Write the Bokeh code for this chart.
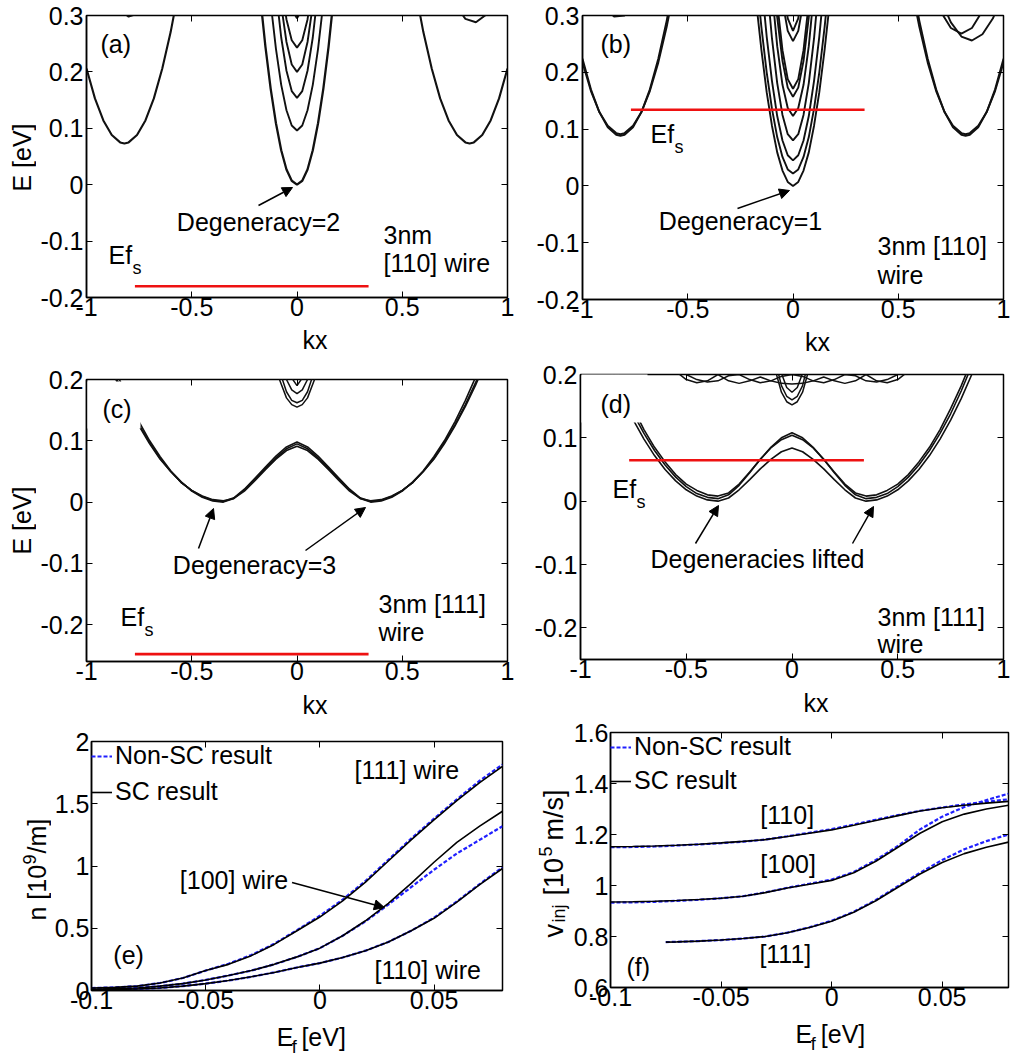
import math
from bokeh.plotting import figure
from bokeh.models import (Label, Arrow, NormalHead, FixedTicker, LinearAxis, Range1d,
                          BoxAnnotation, Legend, LegendItem)
from bokeh.layouts import column, row
from bokeh.embed import file_html
from bokeh.resources import INLINE

FONT = "Liberation Sans"
FS = 25
FS_SUB = 18
BLUE = "#2020ff"
RED = "#ee1111"

# ======================= DATA =======================
kx_ticks = [-1, -0.5, 0, 0.5, 1]
kx_tick_labels = ["-1", "-0.5", "0", "0.5", "1"]
E_ticks_ab = [-0.2, -0.1, 0, 0.1, 0.2, 0.3]
E_tick_labels_ab = ["-0.2", "-0.1", "0", "0.1", "0.2", "0.3"]
E_ticks_cd = [-0.2, -0.1, 0, 0.1, 0.2]
E_tick_labels_cd = ["-0.2", "-0.1", "0", "0.1", "0.2"]
ef_ticks = [-0.1, -0.05, 0, 0.05]
ef_tick_labels = ["-0.1", "-0.05", "0", "0.05"]
n_ticks = [0, 0.5, 1, 1.5, 2]
n_tick_labels = ["0", "0.5", "1", "1.5", "2"]
v_ticks = [0.6, 0.8, 1.0, 1.2, 1.4, 1.6]
v_tick_labels = ["0.6", "0.8", "1", "1.2", "1.4", "1.6"]

# Fermi level (Ef_s) lines
ef_line_kx = [-0.77, 0.34]
efs_a = -0.18
efs_b = 0.134
efs_c = -0.248
efs_d = 0.0645

# ---- panel (a): 3nm [110] wire, bands
kx_side_left = [-1.0, -0.96, -0.92, -0.88, -0.84, -0.82, -0.80, -0.76, -0.72, -0.68, -0.64, -0.60, -0.56]
kx_side_right = [0.56, 0.60, 0.64, 0.68, 0.72, 0.76, 0.80, 0.82, 0.84, 0.88, 0.92, 0.96, 1.0]
a_side_left = [0.206, 0.153, 0.114, 0.088, 0.075, 0.073, 0.075, 0.088, 0.114, 0.153, 0.206, 0.271, 0.350]
a_side_right = [0.350, 0.271, 0.206, 0.153, 0.114, 0.088, 0.075, 0.073, 0.075, 0.088, 0.114, 0.153, 0.206]
kx_a_top_left = [-0.9, -0.85, -0.8, -0.75, -0.7]
a_top_left = [0.346, 0.312, 0.298, 0.304, 0.33]
kx_a_top_right = [0.7, 0.75, 0.8, 0.85, 0.9, 0.95]
a_top_right = [0.366, 0.32, 0.294, 0.288, 0.302, 0.336]

kc = [-0.2, -0.175, -0.15, -0.125, -0.1, -0.075, -0.05, -0.025, 0.0,
      0.025, 0.05, 0.075, 0.1, 0.125, 0.15, 0.175, 0.2]
a_c1 = [0.436, 0.334, 0.245, 0.170, 0.109, 0.061, 0.027, 0.007, 0.0, 0.007, 0.027, 0.061, 0.109, 0.170, 0.245, 0.334, 0.436]
a_c2 = [0.676, 0.540, 0.422, 0.322, 0.241, 0.177, 0.132, 0.105, 0.096, 0.105, 0.132, 0.177, 0.241, 0.322, 0.422, 0.540, 0.676]
a_c3 = [0.914, 0.736, 0.582, 0.451, 0.344, 0.261, 0.202, 0.166, 0.154, 0.166, 0.202, 0.261, 0.344, 0.451, 0.582, 0.736, 0.914]
a_c4 = [1.040, 0.843, 0.673, 0.528, 0.410, 0.318, 0.253, 0.213, 0.200, 0.213, 0.253, 0.318, 0.410, 0.528, 0.673, 0.843, 1.040]
a_c5 = [1.043, 0.855, 0.693, 0.555, 0.443, 0.355, 0.293, 0.256, 0.243, 0.256, 0.293, 0.355, 0.443, 0.555, 0.693, 0.855, 1.043]
a_c6 = [1.295, 1.060, 0.857, 0.685, 0.545, 0.435, 0.358, 0.311, 0.295, 0.311, 0.358, 0.435, 0.545, 0.685, 0.857, 1.060, 1.295]

# ---- panel (b): 3nm [110] wire, self-consistent
b_side_left_1 = [0.224, 0.170, 0.130, 0.103, 0.090, 0.088, 0.090, 0.103, 0.130, 0.170, 0.224, 0.291, 0.372]
b_side_left_2 = [0.217, 0.167, 0.130, 0.106, 0.093, 0.091, 0.093, 0.106, 0.130, 0.167, 0.217, 0.280, 0.355]
b_side_right_1 = [0.372, 0.291, 0.224, 0.170, 0.130, 0.103, 0.090, 0.088, 0.090, 0.103, 0.130, 0.170, 0.224]
b_side_right_2 = [0.355, 0.280, 0.217, 0.167, 0.130, 0.106, 0.093, 0.091, 0.093, 0.106, 0.130, 0.167, 0.217]
kx_b_top_right = [0.6, 0.65, 0.7, 0.75, 0.8, 0.85, 0.9, 0.95, 1.0]
b_top_right_1 = [0.466, 0.389, 0.330, 0.288, 0.263, 0.256, 0.267, 0.295, 0.340]
b_top_right_2 = [0.428, 0.358, 0.308, 0.278, 0.268, 0.278, 0.308, 0.358, 0.428]
kx_b_top_left = [-0.95, -0.9, -0.85, -0.8, -0.75, -0.7]
b_top_left = [0.354, 0.316, 0.298, 0.300, 0.322, 0.364]
b_c1 = [0.424, 0.324, 0.239, 0.165, 0.106, 0.059, 0.027, 0.007, 0.0, 0.007, 0.027, 0.059, 0.106, 0.165, 0.239, 0.324, 0.424]
b_c2 = [0.478, 0.371, 0.279, 0.200, 0.136, 0.086, 0.051, 0.029, 0.022, 0.029, 0.051, 0.086, 0.136, 0.200, 0.279, 0.371, 0.478]
b_c3 = [0.605, 0.473, 0.360, 0.263, 0.185, 0.123, 0.080, 0.054, 0.045, 0.054, 0.080, 0.123, 0.185, 0.263, 0.360, 0.473, 0.605]
b_c4 = [0.800, 0.631, 0.485, 0.361, 0.260, 0.181, 0.125, 0.091, 0.080, 0.091, 0.125, 0.181, 0.260, 0.361, 0.485, 0.631, 0.800]
b_c5 = [1.003, 0.796, 0.618, 0.466, 0.343, 0.246, 0.178, 0.137, 0.123, 0.137, 0.178, 0.246, 0.343, 0.466, 0.618, 0.796, 1.003]
b_c6 = [1.157, 0.922, 0.720, 0.547, 0.407, 0.297, 0.220, 0.173, 0.157, 0.173, 0.220, 0.297, 0.407, 0.547, 0.720, 0.922, 1.157]
b_c7 = [1.251, 0.997, 0.779, 0.592, 0.441, 0.322, 0.239, 0.188, 0.171, 0.188, 0.239, 0.322, 0.441, 0.592, 0.779, 0.997, 1.251]
b_c8 = [1.375, 1.112, 0.885, 0.692, 0.535, 0.412, 0.325, 0.273, 0.255, 0.273, 0.325, 0.412, 0.535, 0.692, 0.885, 1.112, 1.375]
b_c9 = [1.673, 1.343, 1.061, 0.819, 0.623, 0.469, 0.361, 0.295, 0.273, 0.295, 0.361, 0.469, 0.623, 0.819, 1.061, 1.343, 1.673]

# ---- panels (c), (d): 3nm [111] wire
kw = [-0.9, -0.85, -0.8, -0.75, -0.7, -0.65, -0.6, -0.55, -0.5, -0.45, -0.4, -0.35, -0.3, -0.25,
      -0.2, -0.15, -0.1, -0.05, 0.0, 0.05, 0.1, 0.15, 0.2, 0.25, 0.3, 0.35, 0.4, 0.45, 0.5,
      0.55, 0.6, 0.65, 0.7, 0.75, 0.8, 0.85, 0.9]
c_w1 = [0.248, 0.205, 0.166, 0.131, 0.100, 0.074, 0.051, 0.033, 0.018, 0.008, 0.002, 0.0, 0.006, 0.020,
        0.037, 0.055, 0.072, 0.087, 0.095, 0.087, 0.072, 0.055, 0.037, 0.020, 0.006, 0.0, 0.002, 0.008,
        0.018, 0.033, 0.051, 0.074, 0.100, 0.131, 0.166, 0.205, 0.248]
c_w2 = [0.237, 0.196, 0.159, 0.126, 0.097, 0.071, 0.050, 0.032, 0.019, 0.009, 0.003, 0.001, 0.007, 0.021,
        0.039, 0.057, 0.075, 0.090, 0.098, 0.090, 0.075, 0.057, 0.039, 0.021, 0.007, 0.001, 0.003, 0.009,
        0.019, 0.032, 0.050, 0.071, 0.097, 0.126, 0.159, 0.196, 0.237]
c_w3 = [0.232, 0.192, 0.156, 0.124, 0.095, 0.070, 0.050, 0.032, 0.019, 0.010, 0.004, 0.002, 0.006, 0.018,
        0.035, 0.053, 0.070, 0.084, 0.091, 0.084, 0.070, 0.053, 0.035, 0.018, 0.006, 0.002, 0.004, 0.010,
        0.019, 0.032, 0.050, 0.070, 0.095, 0.124, 0.156, 0.192, 0.232]
kv = [-0.2, -0.15, -0.1, -0.05, -0.025, 0.0, 0.025, 0.05, 0.1, 0.15, 0.2]
c_v1 = [0.395, 0.290, 0.215, 0.170, 0.159, 0.155, 0.159, 0.170, 0.215, 0.290, 0.395]
c_v2 = [0.442, 0.320, 0.232, 0.180, 0.166, 0.162, 0.166, 0.180, 0.232, 0.320, 0.442]
c_v3 = [0.537, 0.380, 0.267, 0.200, 0.183, 0.177, 0.183, 0.200, 0.267, 0.380, 0.537]
c_v4 = [0.990, 0.640, 0.390, 0.240, 0.2025, 0.190, 0.2025, 0.240, 0.390, 0.640, 0.990]

d_w1 = [0.242, 0.200, 0.162, 0.128, 0.098, 0.072, 0.050, 0.032, 0.018, 0.008, 0.002, 0.0, 0.005, 0.018,
        0.034, 0.051, 0.066, 0.078, 0.084, 0.078, 0.066, 0.051, 0.034, 0.018, 0.005, 0.0, 0.002, 0.008,
        0.018, 0.032, 0.050, 0.072, 0.098, 0.128, 0.162, 0.200, 0.242]
d_w2 = [0.258, 0.214, 0.174, 0.138, 0.107, 0.080, 0.057, 0.038, 0.023, 0.012, 0.006, 0.004, 0.010, 0.025,
        0.045, 0.066, 0.085, 0.100, 0.108, 0.100, 0.085, 0.066, 0.045, 0.025, 0.010, 0.004, 0.006, 0.012,
        0.023, 0.038, 0.057, 0.080, 0.107, 0.138, 0.174, 0.214, 0.258]
d_w3 = [0.268, 0.223, 0.182, 0.146, 0.113, 0.085, 0.062, 0.042, 0.027, 0.017, 0.010, 0.008, 0.013, 0.027,
        0.046, 0.066, 0.084, 0.097, 0.104, 0.097, 0.084, 0.066, 0.046, 0.027, 0.013, 0.008, 0.010, 0.017,
        0.027, 0.042, 0.062, 0.085, 0.113, 0.146, 0.182, 0.223, 0.268]
d_v1 = [0.472, 0.332, 0.232, 0.172, 0.157, 0.152, 0.157, 0.172, 0.232, 0.332, 0.472]
d_v2 = [0.520, 0.363, 0.250, 0.1825, 0.1656, 0.160, 0.1656, 0.1825, 0.250, 0.363, 0.520]
d_v3 = [0.652, 0.442, 0.292, 0.202, 0.1795, 0.172, 0.1795, 0.202, 0.292, 0.442, 0.652]
ks = [-0.6, -0.55, -0.5, -0.45, -0.4, -0.35, -0.3, -0.25, -0.2, -0.15, -0.1, -0.05, 0.0,
      0.05, 0.1, 0.15, 0.2, 0.25, 0.3, 0.35, 0.4, 0.45, 0.5, 0.55, 0.6]
d_s1 = [0.225, 0.205, 0.192, 0.187, 0.190, 0.200, 0.190, 0.186, 0.190, 0.196, 0.190, 0.186, 0.185,
        0.186, 0.190, 0.196, 0.190, 0.186, 0.190, 0.200, 0.190, 0.187, 0.192, 0.205, 0.225]
d_s2 = [0.235, 0.212, 0.200, 0.192, 0.188, 0.190, 0.198, 0.200, 0.192, 0.187, 0.190, 0.197, 0.200,
        0.197, 0.190, 0.187, 0.192, 0.200, 0.198, 0.190, 0.188, 0.192, 0.200, 0.212, 0.235]

# ---- panel (e): electron density n [1e9/m] vs Ef
ef_e = [-0.1, -0.09, -0.08, -0.07, -0.06, -0.05, -0.04, -0.03, -0.02, -0.01, 0.0,
        0.01, 0.02, 0.03, 0.04, 0.05, 0.06, 0.07, 0.08]
n111_sc = [0.02, 0.025, 0.035, 0.06, 0.1, 0.16, 0.21, 0.28, 0.37, 0.48, 0.59, 0.72, 0.87, 1.04, 1.21, 1.37, 1.525, 1.67, 1.80]
n111_nsc = [0.02, 0.025, 0.035, 0.06, 0.1, 0.16, 0.215, 0.285, 0.375, 0.485, 0.6, 0.73, 0.88, 1.05, 1.22, 1.38, 1.535, 1.685, 1.815]
n100_sc = [0.01, 0.015, 0.02, 0.035, 0.055, 0.085, 0.12, 0.16, 0.21, 0.27, 0.34, 0.44, 0.56, 0.70, 0.86, 1.03, 1.19, 1.32, 1.44]
n100_nsc = [0.01, 0.015, 0.02, 0.035, 0.055, 0.085, 0.12, 0.16, 0.21, 0.27, 0.34, 0.44, 0.555, 0.69, 0.83, 0.97, 1.10, 1.21, 1.32]
n110_sc = [0.005, 0.008, 0.012, 0.02, 0.035, 0.055, 0.08, 0.11, 0.145, 0.185, 0.22, 0.265, 0.32, 0.39, 0.48, 0.58, 0.71, 0.85, 0.98]
n110_nsc = [0.005, 0.008, 0.012, 0.02, 0.035, 0.055, 0.08, 0.11, 0.145, 0.185, 0.22, 0.265, 0.32, 0.39, 0.48, 0.585, 0.715, 0.855, 0.99]

# ---- panel (f): injection velocity [1e5 m/s] vs Ef
ef_f = [-0.1, -0.09, -0.08, -0.07, -0.06, -0.05, -0.04, -0.03, -0.02, -0.01, 0.0,
        0.01, 0.02, 0.03, 0.04, 0.05, 0.06, 0.07, 0.08]
v110_sc = [1.152, 1.153, 1.155, 1.158, 1.162, 1.167, 1.173, 1.18, 1.192, 1.205, 1.218, 1.236, 1.255, 1.274, 1.292, 1.305, 1.315, 1.323, 1.33]
v110_nsc = [1.150, 1.151, 1.153, 1.157, 1.161, 1.166, 1.172, 1.180, 1.193, 1.207, 1.221, 1.239, 1.258, 1.276, 1.293, 1.306, 1.318, 1.328, 1.338]
v100_sc = [0.935, 0.936, 0.938, 0.941, 0.945, 0.95, 0.958, 0.972, 0.99, 1.005, 1.02, 1.05, 1.095, 1.15, 1.205, 1.25, 1.28, 1.30, 1.315]
v100_nsc = [0.933, 0.934, 0.936, 0.94, 0.944, 0.95, 0.958, 0.973, 0.991, 1.007, 1.023, 1.053, 1.1, 1.155, 1.22, 1.27, 1.308, 1.335, 1.36]
ef_f111 = [-0.075, -0.07, -0.06, -0.05, -0.04, -0.03, -0.02, -0.01, 0.0, 0.01, 0.02, 0.03, 0.04, 0.05, 0.06, 0.07, 0.08]
v111_sc = [0.778, 0.779, 0.782, 0.786, 0.792, 0.80, 0.815, 0.835, 0.86, 0.895, 0.94, 0.993, 1.045, 1.09, 1.125, 1.15, 1.17]
v111_nsc = [0.778, 0.779, 0.782, 0.786, 0.792, 0.80, 0.815, 0.836, 0.862, 0.897, 0.943, 0.997, 1.05, 1.1, 1.142, 1.174, 1.2]

# ======================= LAYOUT (page pixels, origin = page top-left) =======================
PANELS = {
    "a": dict(fig=(36, 0, 479, 325), frame=(86, 15, 421, 282), xr=(-1, 1), yr=(-0.2, 0.3), ystand=3),
    "b": dict(fig=(515, 0, 496, 327), frame=(582, 15, 421, 284), xr=(-1, 1), yr=(-0.2, 0.3), ystand=3),
    "c": dict(fig=(36, 360, 479, 329), frame=(86, 379, 421, 282), xr=(-1, 1), yr=(-0.26, 0.2), ystand=3),
    "d": dict(fig=(515, 360, 496, 327), frame=(580, 374, 423, 285), xr=(-1, 1), yr=(-0.25, 0.2), ystand=3),
    "e": dict(fig=(51, 718, 464, 300), frame=(88, 741, 414, 249), xr=(-0.1, 0.08), yr=(0, 2), ystand=2),
    "f": dict(fig=(570, 718, 441, 297), frame=(607, 732, 401, 255), xr=(-0.1, 0.08), yr=(0.6, 1.6), ystand=2),
}
MID = 0.3465  # em offset from alphabetic baseline to the middle of the em box


def to_data(key, px, py):
    P = PANELS[key]
    fl, ft, fw, fh = P["frame"]
    x0, x1 = P["xr"]
    y0, y1 = P["yr"]
    return x0 + (px - fl) / fw * (x1 - x0), y1 - (py - ft) / fh * (y1 - y0)


def setup_axis(ax, ticks, labels, standoff, show_labels=True):
    ax.ticker = FixedTicker(ticks=ticks)
    if show_labels:
        ax.major_label_overrides = {t: l for t, l in zip(ticks, labels)}
        ax.major_label_text_font = FONT
        ax.major_label_text_font_size = f"{FS}px"
        ax.major_label_text_color = "black"
        ax.major_label_standoff = standoff
    else:
        ax.major_label_overrides = {t: "" for t in ticks}
        ax.major_label_text_font_size = "0px"
        ax.major_label_standoff = 0
    ax.major_tick_in = 6
    ax.major_tick_out = 0
    ax.major_tick_line_color = "black"
    ax.major_tick_line_width = 1
    ax.minor_tick_line_color = None
    ax.axis_line_color = "black" if show_labels else None
    ax.axis_line_width = 1.5


def make_panel(key, xt, xtl, yt, ytl):
    P = PANELS[key]
    fx, fy, fw_, fh_ = P["fig"]
    fl, ft, fw, fh = P["frame"]
    p = figure(width=fw_, height=fh_, x_range=Range1d(*P["xr"]), y_range=Range1d(*P["yr"]),
               output_backend="svg", toolbar_location=None, title=None,
               min_border_left=fl - fx, min_border_right=fx + fw_ - fl - fw,
               min_border_top=ft - fy, min_border_bottom=fy + fh_ - ft - fh)
    p.grid.visible = False
    p.outline_line_color = "black"
    p.outline_line_width = 1.5
    p.background_fill_color = "white"
    p.border_fill_color = "white"
    setup_axis(p.xaxis[0], xt, xtl, 0)
    setup_axis(p.yaxis[0], yt, ytl, P["ystand"])
    top = LinearAxis()
    setup_axis(top, xt, xtl, 0, show_labels=False)
    p.add_layout(top, "above")
    right = LinearAxis()
    setup_axis(right, yt, ytl, 0, show_labels=False)
    p.add_layout(right, "right")
    return p


def make_strip(x0, y0, w, h, items):
    """A plain text strip (axis titles); items use page pixel coordinates of the text baseline."""
    s = figure(width=w, height=h, x_range=Range1d(0, w), y_range=Range1d(h, 0),
               output_backend="svg", toolbar_location=None, title=None,
               x_axis_location=None, y_axis_location=None, min_border=0)
    s.xgrid.visible = False
    s.ygrid.visible = False
    s.outline_line_color = None
    s.background_fill_color = "white"
    s.border_fill_color = "white"
    for px, py, t, size, align, rotated in items:
        off = MID * size
        if rotated:
            lx, ly, ang = px - x0 - off, py - y0, math.pi / 2
        else:
            lx, ly, ang = px - x0, py - y0 - off, 0.0
        s.add_layout(Label(x=lx, y=ly, text=t, text_font=FONT, text_font_size=f"{size}px",
                           text_align=align, text_baseline="middle", angle=ang,
                           text_color="black"))
    return s


def text(p, key, px, py, s, size=FS, align="left"):
    """px, py = page position of the text baseline (left or centre)."""
    x, y = to_data(key, px, py - MID * size)
    p.add_layout(Label(x=x, y=y, text=s, text_font=FONT, text_font_size=f"{size}px",
                       text_align=align, text_baseline="middle", text_color="black"))


def arrow(p, key, p0, p1):
    x0, y0 = to_data(key, *p0)
    x1, y1 = to_data(key, *p1)
    p.add_layout(Arrow(end=NormalHead(size=10, fill_color="black", line_color="black", line_width=1),
                       x_start=x0, y_start=y0, x_end=x1, y_end=y1,
                       line_width=1.5, line_color="black"))


def white_box(p, key, left, top, right, bottom):
    x0, y1 = to_data(key, left, top)
    x1, y0 = to_data(key, right, bottom)
    p.add_layout(BoxAnnotation(left=x0, right=x1, bottom=y0, top=y1, fill_color="white",
                               fill_alpha=1.0, line_color=None))


def band(p, x, y, w=1.9):
    p.line(x, y, line_color="#111111", line_width=w)


def efs(p, key, yv, px, py):
    p.line(ef_line_kx, [yv, yv], line_color=RED, line_width=2.6)
    text(p, key, px, py, "Ef")
    text(p, key, px + 24, py + 11, "s", size=FS_SUB)


# ---------------- (a)
pa = make_panel("a", kx_ticks, kx_tick_labels, E_ticks_ab, E_tick_labels_ab)
band(pa, kx_side_left, a_side_left, 2.1)
band(pa, kx_side_right, a_side_right, 2.1)
band(pa, kx_a_top_left, a_top_left)
band(pa, kx_a_top_right, a_top_right)
band(pa, kc, a_c1, 2.3)
for e in (a_c2, a_c3, a_c4, a_c5, a_c6):
    band(pa, kc, e)
efs(pa, "a", efs_a, 108, 263)
text(pa, "a", 100, 52, "(a)")
text(pa, "a", 258, 230, "Degeneracy=2", align="center")
arrow(pa, "a", (258, 205), (292, 187))
text(pa, "a", 383, 243, "3nm")
text(pa, "a", 383, 271, "[110] wire")
ya = make_strip(0, 0, 36, 360, [(30, 157, "E [eV]", FS, "center", True)])
xa = make_strip(36, 325, 479, 35, [(296, 348, "kx", FS, "center", False)])

# ---------------- (b)
pb = make_panel("b", kx_ticks, kx_tick_labels, E_ticks_ab, E_tick_labels_ab)
for e in (b_side_left_1, b_side_left_2):
    band(pb, kx_side_left, e)
for e in (b_side_right_1, b_side_right_2):
    band(pb, kx_side_right, e)
band(pb, kx_b_top_right, b_top_right_1)
band(pb, kx_b_top_right, b_top_right_2)
band(pb, kx_b_top_left, b_top_left)
for e in (b_c1, b_c2, b_c3, b_c4, b_c5, b_c6, b_c7, b_c8, b_c9):
    band(pb, kc, e)
efs(pb, "b", efs_b, 650, 142)
text(pb, "b", 600, 52, "(b)")
text(pb, "b", 740, 229, "Degeneracy=1", align="center")
arrow(pb, "b", (737, 208), (789, 190))
text(pb, "b", 877, 254, "3nm [110]")
text(pb, "b", 877, 283, "wire")
xb = make_strip(515, 327, 496, 33, [(792, 350, "kx", FS, "center", False)])

# ---------------- (c)
pc = make_panel("c", kx_ticks, kx_tick_labels, E_ticks_cd, E_tick_labels_cd)
for e in (c_w1, c_w2, c_w3):
    band(pc, kw, e, 1.6)
for e in (c_v1, c_v2, c_v3, c_v4):
    band(pc, kv, e, 1.5)
efs(pc, "c", efs_c, 120, 625)
white_box(pc, "c", 87, 381, 140, 428)
text(pc, "c", 102, 417, "(c)")
text(pc, "c", 254, 573, "Degeneracy=3", align="center")
arrow(pc, "c", (198, 548), (213, 508))
arrow(pc, "c", (305, 550), (365, 507))
text(pc, "c", 378, 612, "3nm [111]")
text(pc, "c", 378, 640, "wire")
yc = make_strip(0, 360, 36, 358, [(30, 520, "E [eV]", FS, "center", True)])
xc = make_strip(36, 689, 479, 29, [(296, 713, "kx", FS, "center", False)])

# ---------------- (d)
pd_ = make_panel("d", kx_ticks, kx_tick_labels, E_ticks_cd, E_tick_labels_cd)
for e in (d_w1, d_w2, d_w3):
    band(pd_, kw, e, 1.6)
for e in (d_v1, d_v2, d_v3):
    band(pd_, kv, e, 1.5)
for e in (d_s1, d_s2):
    band(pd_, ks, e, 1.5)
efs(pd_, "d", efs_d, 612, 497)
white_box(pd_, "d", 581, 372, 647, 422)
text(pd_, "d", 600, 412, "(d)")
text(pd_, "d", 757, 567, "Degeneracies lifted", align="center")
arrow(pd_, "d", (695, 543), (718, 505))
arrow(pd_, "d", (852, 543), (873, 506))
text(pd_, "d", 877, 625, "3nm [111]")
text(pd_, "d", 877, 652, "wire")
xd = make_strip(515, 687, 496, 31, [(791, 711, "kx", FS, "center", False)])

# ---------------- (e)
pe = make_panel("e", ef_ticks, ef_tick_labels, n_ticks, n_tick_labels)
r_nsc_e = pe.line(ef_e, n111_nsc, line_color=BLUE, line_width=2.2, line_dash="4 2")
pe.line(ef_e, n100_nsc, line_color=BLUE, line_width=2.2, line_dash="4 2")
pe.line(ef_e, n110_nsc, line_color=BLUE, line_width=2.2, line_dash="4 2")
r_sc_e = pe.line(ef_e, n111_sc, line_color="black", line_width=1.6)
pe.line(ef_e, n100_sc, line_color="black", line_width=1.6)
pe.line(ef_e, n110_sc, line_color="black", line_width=1.6)
pe.add_layout(Legend(items=[LegendItem(label="Non-SC result", renderers=[r_nsc_e]),
                            LegendItem(label="SC result", renderers=[r_sc_e])],
                     location="top_left", margin=0, padding=8, spacing=7,
                     border_line_color=None, background_fill_alpha=0.0,
                     label_text_font=FONT, label_text_font_size=f"{FS}px", label_text_color="black",
                     glyph_width=21, glyph_height=20, label_standoff=3))
text(pe, "e", 353, 778, "[111] wire")
text(pe, "e", 177, 888, "[100] wire")
arrow(pe, "e", (290, 882), (383, 907))
text(pe, "e", 373, 978, "[110] wire")
text(pe, "e", 110, 963, "(e)")
ye = make_strip(0, 718, 51, 340, [(45, 920, "n [10", FS, "left", True),
                                  (35, 864, "9", FS_SUB, "left", True),
                                  (45, 853, "/m]", FS, "left", True)])
xe = make_strip(51, 1018, 464, 40, [(260, 1045, "E", FS, "left", False),
                                    (277, 1053, "f", FS_SUB, "left", False),
                                    (288, 1045, "[eV]", FS, "left", False)])

# ---------------- (f)
pf = make_panel("f", ef_ticks, ef_tick_labels, v_ticks, v_tick_labels)
r_nsc_f = pf.line(ef_f, v110_nsc, line_color=BLUE, line_width=2.2, line_dash="4 2")
pf.line(ef_f, v100_nsc, line_color=BLUE, line_width=2.2, line_dash="4 2")
pf.line(ef_f111, v111_nsc, line_color=BLUE, line_width=2.2, line_dash="4 2")
r_sc_f = pf.line(ef_f, v110_sc, line_color="black", line_width=1.6)
pf.line(ef_f, v100_sc, line_color="black", line_width=1.6)
pf.line(ef_f111, v111_sc, line_color="black", line_width=1.6)
pf.add_layout(Legend(items=[LegendItem(label="Non-SC result", renderers=[r_nsc_f]),
                            LegendItem(label="SC result", renderers=[r_sc_f])],
                     location="top_left", margin=0, padding=8, spacing=5,
                     border_line_color=None, background_fill_alpha=0.0,
                     label_text_font=FONT, label_text_font_size=f"{FS}px", label_text_color="black",
                     glyph_width=21, glyph_height=20, label_standoff=3))
text(pf, "f", 758, 823, "[110]")
text(pf, "f", 758, 872, "[100]")
text(pf, "f", 757, 962, "[111]")
text(pf, "f", 623, 975, "(f)")
yf = make_strip(515, 718, 55, 340, [(563, 937, "v", 27, "left", True),
                                    (565, 922, "inj", FS_SUB, "left", True),
                                    (563, 895, "[10", 27, "left", True),
                                    (551, 856, "5", FS_SUB, "left", True),
                                    (563, 840, "m/s]", 27, "left", True)])
xf = make_strip(570, 1015, 441, 43, [(775, 1042, "E", FS, "left", False),
                                     (792, 1050, "f", FS_SUB, "left", False),
                                     (803, 1042, "[eV]", FS, "left", False)])

layout = column(
    row(ya, column(pa, xa), column(pb, xb)),
    row(yc, column(pc, xc), column(pd_, xd)),
    row(ye, column(pe, xe), yf, column(pf, xf)),
)
open("out.html", "w").write(file_html(layout, INLINE))
